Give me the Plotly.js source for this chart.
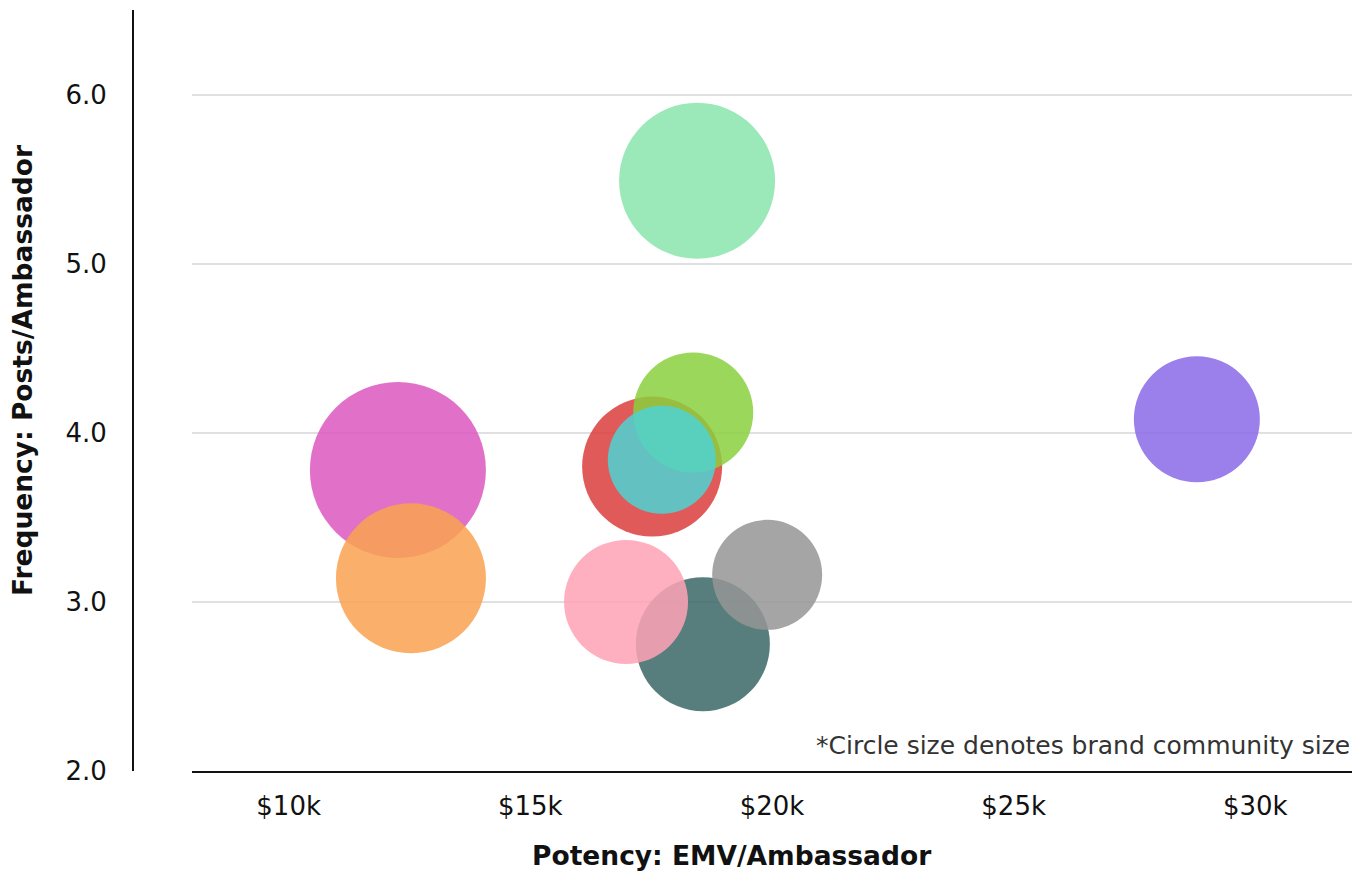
<!DOCTYPE html>
<html>
<head>
<meta charset="utf-8">
<script src="https://cdn.plot.ly/plotly-3.0.1.min.js"></script>
<style>html,body{margin:0;padding:0;background:#fff;}#chart{width:1366px;height:871px;}</style>
</head>
<body>
<div id="chart"></div>
<script>
// Brand bubbles (draw order matters for overlaps)
const brands = ["Magenta", "Orange", "Red", "Green", "Cyan", "Teal", "Pink", "Gray", "Mint", "Purple"];
const emvPerAmbassador = [12260, 12530, 17520, 18370, 17720, 18570, 16980, 19900, 18450, 28790];
const postsPerAmbassador = [3.78, 3.14, 3.80, 4.12, 3.84, 2.75, 3.00, 3.16, 5.49, 4.08];
const communitySize = [176, 150, 140, 120, 108, 134, 124, 110, 156, 126];
const colors = ["#db57be", "#f9a250", "#db3d3d", "#89d03d", "#4dd4d4", "#396766", "#ffa2b5", "#959595", "#89e4ab", "#896ae8"];
const xTickVals = [10000, 15000, 20000, 25000, 30000];
const xTickText = ["$10k", "$15k", "$20k", "$25k", "$30k"];
const yTickVals = [2, 3, 4, 5, 6];
const yTickText = ["2.0", "3.0", "4.0", "5.0", "6.0"];

const FONT = "'DejaVu Sans', 'Open Sans', sans-serif";

const traces = brands.map((b, i) => ({
  type: "scatter",
  mode: "markers",
  name: b,
  x: [emvPerAmbassador[i]],
  y: [postsPerAmbassador[i]],
  marker: {
    size: [communitySize[i]],
    sizemode: "diameter",
    sizeref: 1,
    color: colors[i],
    opacity: 0.85,
    line: {width: 0}
  },
  hoverinfo: "x+y+name"
}));

const layout = {
  width: 1366,
  height: 871,
  margin: {l: 133, r: 14, t: 10, b: 100},
  paper_bgcolor: "#ffffff",
  plot_bgcolor: "#ffffff",
  showlegend: false,
  font: {family: FONT, color: "#111111"},
  xaxis: {
    domain: [0.0484, 1],
    range: [8000, 32000],
    tickvals: xTickVals,
    ticktext: xTickText,
    tickfont: {size: 26, color: "#111111", family: FONT},
    showgrid: false,
    zeroline: false,
    showline: true,
    linecolor: "#111111",
    linewidth: 2,
    ticks: "",
    ticklabelstandoff: 11
  },
  yaxis: {
    range: [2, 6.5],
    anchor: "free",
    position: 0,
    tickvals: yTickVals,
    ticktext: yTickText,
    tickfont: {size: 26, color: "#111111", family: FONT},
    showgrid: true,
    gridcolor: "#e0e0e0",
    gridwidth: 2,
    zeroline: false,
    showline: true,
    linecolor: "#111111",
    linewidth: 2,
    ticks: "",
    ticklabelstandoff: 20
  },
  annotations: [
    {
      text: "Potency: EMV/Ambassador",
      xref: "paper", yref: "paper",
      x: (731 - 133) / 1219, y: -(855 - 771) / 761,
      xanchor: "center", yanchor: "middle",
      showarrow: false,
      font: {size: 26.5, family: FONT, color: "#111111", weight: "bold"}
    },
    {
      text: "Frequency: Posts/Ambassador",
      xref: "paper", yref: "paper",
      x: -(133 - 22) / 1219, y: (771 - 371) / 761,
      xanchor: "center", yanchor: "middle",
      textangle: -90,
      showarrow: false,
      font: {size: 26.5, family: FONT, color: "#111111", weight: "bold"}
    },
    {
      text: "*Circle size denotes brand community size",
      xref: "paper", yref: "paper",
      x: 1, y: (771 - 745) / 761,
      xanchor: "right", yanchor: "middle",
      showarrow: false,
      font: {size: 25, family: FONT, color: "#333333"}
    }
  ]
};

Plotly.newPlot("chart", traces, layout, {displayModeBar: false, responsive: false});
</script>
</body>
</html>
